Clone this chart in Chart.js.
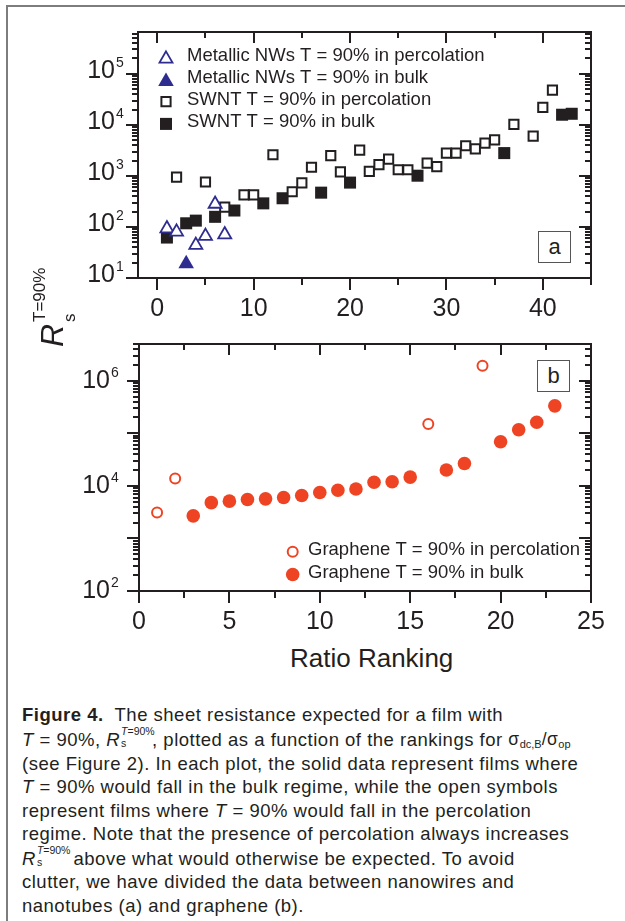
<!DOCTYPE html>
<html>
<head>
<meta charset="utf-8">
<script src="https://cdn.jsdelivr.net/npm/chart.js@4.4.0/dist/chart.umd.min.js"></script>
<style>
    body { margin: 0; background: #fff; }
    #page { position: relative; width: 625px; height: 921px; overflow: hidden; background: #fff;
        font-family: 'Liberation Sans', Arial, Helvetica, sans-serif; color: #231f20; }
    #frame { position: absolute; left: 6px; top: 5px; width: 700px; height: 1000px;
        border-left: 2px solid #7d7d7d; border-top: 2px solid #7d7d7d; }
    canvas { position: absolute; left: 0; }
    #ca { top: 0; }
    #cb { top: 320px; }
    .tag { position: absolute; box-sizing: border-box; width: 33px; height: 32px; border: 1px solid #555;
        background: #fff; font-size: 22px; line-height: 29px; text-align: center; }
    #yt { position: absolute; left: 0; top: 350px; width: 0; height: 0; transform: rotate(-90deg); transform-origin: 0 0; }
    #yt span { position: absolute; line-height: 1; white-space: nowrap; }
    #yt .R { left: 3px; top: 36px; font-size: 32px; font-style: italic; }
    #yt .up { left: 28px; top: 30.6px; font-size: 17px; }
    #yt .dn { left: 28px; top: 60.6px; font-size: 17px; }
    #xt { position: absolute; left: 290px; top: 645px; font-size: 26px; line-height: 1; white-space: nowrap; }
    #cap { position: absolute; left: 22px; top: 703px; font-size: 18.5px; letter-spacing: 0.5px;
        line-height: 23.6px; white-space: nowrap; }
    #cap sub { font-size: 11px; vertical-align: -3px; line-height: 0; letter-spacing: 0; }
    #cap .sg { font-size: 17.5px; }
    .rs { display: inline-block; position: relative; width: 32px; height: 1em; }
    .rs span { position: absolute; left: 1px; line-height: 1; font-size: 10.5px; letter-spacing: 0; }
    .rs .u { top: -1px; }
    .rs .d { top: 11px; }
</style>
</head>
<body>
<div id="page">
    <div id="frame"></div>
    <canvas id="ca" width="625" height="320"></canvas>
    <canvas id="cb" width="625" height="320"></canvas>
    <div class="tag" style="left:538px; top:231px;">a</div>
    <div class="tag" style="left:537px; top:360px;">b</div>
    <div id="yt"><span class="R">R</span><span class="up">T=90%</span><span class="dn">s</span></div>
    <div id="xt">Ratio Ranking</div>
    <div id="cap">
        <b>Figure 4.</b>&nbsp; The sheet resistance expected for a film with<br>
        <i>T</i> = 90%, <i>R</i><span class="rs"><span class="u"><i>T</i>=90%</span><span class="d">s</span></span>, plotted as a function of the rankings for <span class="sg">σ<sub>dc,B</sub>/σ<sub>op</sub></span><br>
        (see Figure 2). In each plot, the solid data represent films where<br>
        <i>T</i> = 90% would fall in the bulk regime, while the open symbols<br>
        represent films where <i>T</i> = 90% would fall in the percolation<br>
        regime. Note that the presence of percolation always increases<br>
        <i>R</i><span class="rs"><span class="u"><i>T</i>=90%</span><span class="d">s</span></span> above what would otherwise be expected. To avoid<br>
        clutter, we have divided the data between nanowires and<br>
        nanotubes (a) and graphene (b).
    </div>
</div>

<script>
    // panel a: metallic nanowires and SWNT
    const metalPercRank = [1, 2, 4, 5, 6, 7]
    const metalPercVal = [93, 80, 44, 66, 282, 71]
    const metalBulkRank = [3]
    const metalBulkVal = [19]
    const swntPercRank = [2, 5, 7, 9, 10, 12, 14, 15, 16, 18, 19, 21, 22, 23, 24, 25, 26, 28, 29, 30, 31, 32, 33, 34, 35, 37, 39, 40, 41]
    const swntPercVal = [950, 760, 245, 425, 425, 2600, 490, 730, 1480, 2500, 1200, 3200, 1230, 1660, 2130, 1320, 1320, 1780, 1520, 2800, 2800, 3900, 3400, 4400, 5100, 10200, 6000, 22000, 48000]
    const swntBulkRank = [1, 3, 4, 6, 8, 11, 13, 17, 20, 27, 36, 42, 43]
    const swntBulkVal = [62, 118, 133, 158, 210, 290, 365, 470, 740, 1010, 2800, 15800, 16500]
    const legendA = ['Metallic NWs T = 90% in percolation', 'Metallic NWs T = 90% in bulk',
        'SWNT T = 90% in percolation', 'SWNT T = 90% in bulk']
    const xLabelsA = [0, 10, 20, 30, 40]
    const yLabelsA = [1, 2, 3, 4, 5]

    // panel b: graphene
    const grPercRank = [1, 2, 16, 19]
    const grPercVal = [3100, 13800, 151000, 1930000]
    const grBulkRank = [3, 4, 5, 6, 7, 8, 9, 10, 11, 12, 13, 14, 15, 17, 18, 20, 21, 22, 23]
    const grBulkVal = [2690, 4790, 5120, 5490, 5660, 6000, 6570, 7470, 8270, 8700, 11700, 12000, 14700, 20000, 26700, 69000, 117000, 162000, 333000]
    const legendB = ['Graphene T = 90% in percolation', 'Graphene T = 90% in bulk']
    const xLabelsB = [0, 5, 10, 15, 20, 25]
    const yLabelsB = [2, 4, 6]

    const ink = '#231f20'
    const navy = '#2e2d8f'
    const red = '#ef4423'
    const fam = "'Liberation Sans', Arial, Helvetica, sans-serif"

    function pts(ranks, vals) {
        return ranks.map((r, i) => ({ x: r, y: vals[i] }))
    }

    function marker(ctx, ds, x, y) {
        const r = ds.pointRadius
        ctx.beginPath()
        if (ds.pointStyle === 'triangle') {
            for (let k = 0; k < 3; k++) {
                const t = k * 2 * Math.PI / 3
                const px = x + Math.sin(t) * r, py = y - Math.cos(t) * r
                k ? ctx.lineTo(px, py) : ctx.moveTo(px, py)
            }
            ctx.closePath()
        } else if (ds.pointStyle === 'rect') {
            const s = r * Math.SQRT1_2
            ctx.rect(x - s, y - s, 2 * s, 2 * s)
        } else {
            ctx.arc(x, y, r, 0, 2 * Math.PI)
        }
        ctx.fillStyle = ds.backgroundColor
        ctx.fill()
        if (ds.borderWidth) {
            ctx.lineWidth = ds.borderWidth
            ctx.strokeStyle = ds.borderColor
            ctx.stroke()
        }
    }

    // box, ticks on all four sides, 10^n labels and the legend
    const panel = {
        id: 'panel',
        afterDraw(chart, args, o) {
            const { ctx, chartArea: a, scales: { x, y } } = chart
            ctx.save()
            ctx.strokeStyle = ink
            ctx.lineWidth = 2
            ctx.strokeRect(a.left, a.top, a.right - a.left, a.bottom - a.top)
            ctx.beginPath()
            for (let v = Math.ceil(x.min / o.xMinor) * o.xMinor; v <= x.max + 1e-9; v += o.xMinor) {
                const px = Math.round(x.getPixelForValue(v))
                const major = Math.abs(v / o.xMajor - Math.round(v / o.xMajor)) < 1e-6
                const len = major ? 12 : 7
                ctx.moveTo(px, a.bottom); ctx.lineTo(px, a.bottom + len)
                ctx.moveTo(px, a.top); ctx.lineTo(px, a.top + len - 1)
            }
            const e0 = Math.floor(Math.log10(y.min)), e1 = Math.ceil(Math.log10(y.max))
            for (let e = e0; e <= e1; e++) {
                for (let m = 1; m < 10; m++) {
                    const v = m * Math.pow(10, e)
                    if (v < y.min * 0.999 || v > y.max * 1.001) continue
                    const py = Math.round(y.getPixelForValue(v))
                    const len = m === 1 ? 12 : 6
                    ctx.moveTo(a.left - len, py); ctx.lineTo(a.left, py)
                    ctx.moveTo(a.right - len, py); ctx.lineTo(a.right, py)
                }
            }
            ctx.stroke()

            ctx.fillStyle = ink
            for (const e of o.yLabels) {
                const py = y.getPixelForValue(Math.pow(10, e)) + o.labelDy
                const xr = a.left - o.labelGap
                ctx.font = '25px ' + fam
                ctx.textAlign = 'right'
                ctx.textBaseline = 'middle'
                ctx.fillText('10', xr, py)
                ctx.font = '14px ' + fam
                ctx.textAlign = 'left'
                ctx.textBaseline = 'alphabetic'
                ctx.fillText(String(e), xr + 1, py - 4)
            }

            const dsets = chart.data.datasets
            ctx.font = '18.5px ' + fam
            ctx.textAlign = 'left'
            ctx.textBaseline = 'middle'
            dsets.forEach((ds, i) => {
                const ty = o.legY + i * o.legDy
                const yo = ds.pointStyle === 'triangle' ? ds.pointRadius / 4 : 0
                marker(ctx, ds, o.legX, ty + 1.5 + yo)
                ctx.fillStyle = ink
                ctx.fillText(ds.label, o.legTextX, ty)
            })
            ctx.restore()
        }
    }

    function xScale(min, max, labels, h) {
        return {
            type: 'linear', min: min, max: max,
            grid: { display: false }, border: { display: false },
            afterBuildTicks: s => { s.ticks = labels.map(v => ({ value: v })) },
            afterFit: s => { s.height = h },
            ticks: { font: { family: fam, size: 25 }, color: ink, padding: 8, maxRotation: 0, autoSkip: false }
        }
    }

    function yScale(min, max, w) {
        return {
            type: 'logarithmic', min: min, max: max,
            grid: { display: false }, border: { display: false },
            ticks: { display: false },
            afterFit: s => { s.width = w }
        }
    }

    new Chart(document.getElementById('ca'), {
        type: 'scatter',
        data: {
            datasets: [{
                label: legendA[0], data: pts(metalPercRank, metalPercVal),
                pointStyle: 'triangle', pointRadius: 7.5, borderColor: navy, backgroundColor: '#fff', borderWidth: 1.8
            }, {
                label: legendA[1], data: pts(metalBulkRank, metalBulkVal),
                pointStyle: 'triangle', pointRadius: 9, borderColor: navy, backgroundColor: navy, borderWidth: 0
            }, {
                label: legendA[2], data: pts(swntPercRank, swntPercVal),
                pointStyle: 'rect', pointRadius: 6.5, borderColor: ink, backgroundColor: '#fff', borderWidth: 2
            }, {
                label: legendA[3], data: pts(swntBulkRank, swntBulkVal),
                pointStyle: 'rect', pointRadius: 8.5, borderColor: ink, backgroundColor: ink, borderWidth: 0
            }]
        },
        options: {
            responsive: false,
            animation: false,
            events: [],
            layout: { padding: { left: 0, top: 32, right: 34, bottom: 0 } },
            plugins: {
                legend: { display: false },
                tooltip: { enabled: false },
                panel: { xMinor: 5, xMajor: 10, yLabels: yLabelsA, labelDy: -3, labelGap: 23,
                    legX: 166, legTextX: 187, legY: 55.5, legDy: 22.3 }
            },
            scales: {
                x: xScale(-2, 45, xLabelsA, 42),
                y: yScale(10, 6.6e5, 138)
            }
        },
        plugins: [panel]
    });

    new Chart(document.getElementById('cb'), {
        type: 'scatter',
        data: {
            datasets: [{
                label: legendB[0], data: pts(grPercRank, grPercVal),
                pointStyle: 'circle', pointRadius: 5, borderColor: red, backgroundColor: '#fff', borderWidth: 2
            }, {
                label: legendB[1], data: pts(grBulkRank, grBulkVal),
                pointStyle: 'circle', pointRadius: 6.8, borderColor: red, backgroundColor: red, borderWidth: 0
            }]
        },
        options: {
            responsive: false,
            animation: false,
            events: [],
            layout: { padding: { left: 0, top: 24, right: 34, bottom: 0 } },
            plugins: {
                legend: { display: false },
                tooltip: { enabled: false },
                panel: { xMinor: 2.5, xMajor: 5, yLabels: yLabelsB, labelDy: 0, labelGap: 29,
                    legX: 292.7, legTextX: 308, legY: 230.3, legDy: 22.7 }
            },
            scales: {
                x: xScale(0, 25, xLabelsB, 49),
                y: yScale(100, 5e6, 139)
            }
        },
        plugins: [panel]
    });
</script>
</body>
</html>
